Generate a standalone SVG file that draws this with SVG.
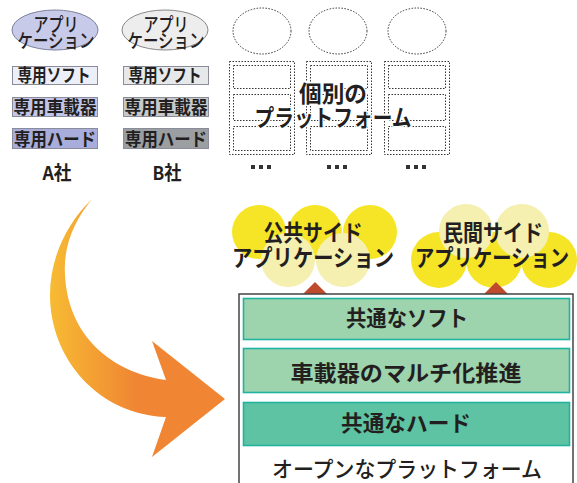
<svg xmlns="http://www.w3.org/2000/svg" width="577" height="483" viewBox="0 0 577 483">
<style>
text{font-family:"Noto Sans CJK JP","Noto Sans",sans-serif;fill:#231f20;text-anchor:middle;}
.b{font-weight:bold;}
.m{font-weight:500;}
.s18{font-size:18px;}
.s19{font-size:19px;}
.s22{font-size:22px;}
.s23{font-size:23px;}
.halo{stroke:#fff;stroke-width:3px;paint-order:stroke;stroke-linejoin:round;}
.dot{fill:none;stroke:#333;stroke-width:1;stroke-dasharray:1.5 1.5;}
.box{stroke:#8a8c99;stroke-width:1;}
.grn{stroke:#1fb3a0;stroke-width:1.6;}
.yel{fill:#f6e526;}
.pal{fill:#f5efb0;}
.tri{fill:#c04a2c;}
</style>
<defs>
<linearGradient id="ag" x1="50" y1="0" x2="135" y2="0" gradientUnits="userSpaceOnUse">
<stop offset="0" stop-color="#f7bb33"/>
<stop offset="1" stop-color="#f08633"/>
</linearGradient>
</defs>

<g id="companyA">
<ellipse cx="55" cy="30" rx="43" ry="20" fill="#c7cae8" stroke="#7d819c" stroke-width="1"/>
<text class="s19 m" x="56" y="32" textLength="45" lengthAdjust="spacingAndGlyphs">アプリ</text>
<text class="s19 m" x="56" y="48" textLength="77" lengthAdjust="spacingAndGlyphs">ケーション</text>
<rect class="box" x="12.5" y="66.5" width="85" height="18" fill="#eceef8"/>
<text class="s18 b" x="54" y="82" textLength="73" lengthAdjust="spacingAndGlyphs">専用ソフト</text>
<rect class="box" x="12.5" y="97.5" width="85" height="19" fill="#c3c6e6"/>
<text class="s18 b" x="55" y="114" textLength="83" lengthAdjust="spacingAndGlyphs">専用車載器</text>
<rect class="box" x="12.5" y="128.5" width="85" height="20" fill="#a8addb"/>
<text class="s18 b" x="55" y="146" textLength="82" lengthAdjust="spacingAndGlyphs">専用ハード</text>
<text class="s19 b" x="57" y="180" textLength="29" lengthAdjust="spacingAndGlyphs">A社</text>
</g>

<g id="companyB">
<ellipse cx="165" cy="30" rx="43" ry="20" fill="#ededee" stroke="#888" stroke-width="1"/>
<text class="s19 m" x="166" y="32" textLength="45" lengthAdjust="spacingAndGlyphs">アプリ</text>
<text class="s19 m" x="166" y="48" textLength="77" lengthAdjust="spacingAndGlyphs">ケーション</text>
<rect class="box" x="123.5" y="66.5" width="85" height="18" fill="#e7e8ea"/>
<text class="s18 b" x="165" y="82" textLength="73" lengthAdjust="spacingAndGlyphs">専用ソフト</text>
<rect class="box" x="123.5" y="97.5" width="85" height="19" fill="#c8c9cb"/>
<text class="s18 b" x="166" y="114" textLength="83" lengthAdjust="spacingAndGlyphs">専用車載器</text>
<rect class="box" x="123.5" y="128.5" width="85" height="20" fill="#9b9fa2"/>
<text class="s18 b" x="166" y="146" textLength="82" lengthAdjust="spacingAndGlyphs">専用ハード</text>
<text class="s19 b" x="167" y="180" textLength="29" lengthAdjust="spacingAndGlyphs">B社</text>
</g>

<g id="individual">
<ellipse class="dot" cx="262" cy="31" rx="29" ry="23"/>
<ellipse class="dot" cx="338" cy="31" rx="29" ry="23"/>
<ellipse class="dot" cx="417" cy="31" rx="29" ry="23"/>
<rect class="dot" x="229.5" y="61.5" width="65" height="93"/>
<rect class="dot" x="233.5" y="65.5" width="57" height="23"/>
<rect class="dot" x="233.5" y="94.5" width="57" height="26"/>
<rect class="dot" x="233.5" y="126.5" width="57" height="24"/>
<rect class="dot" x="306.5" y="61.5" width="65" height="93"/>
<rect class="dot" x="310.5" y="65.5" width="57" height="23"/>
<rect class="dot" x="310.5" y="94.5" width="57" height="26"/>
<rect class="dot" x="310.5" y="126.5" width="57" height="24"/>
<rect class="dot" x="384.5" y="61.5" width="65" height="93"/>
<rect class="dot" x="388.5" y="65.5" width="57" height="23"/>
<rect class="dot" x="388.5" y="94.5" width="57" height="26"/>
<rect class="dot" x="388.5" y="126.5" width="57" height="24"/>
<g fill="#333">
<rect x="251" y="165" width="4" height="4"/><rect x="259" y="165" width="4" height="4"/><rect x="267" y="165" width="4" height="4"/>
<rect x="327" y="165" width="4" height="4"/><rect x="335" y="165" width="4" height="4"/><rect x="343" y="165" width="4" height="4"/>
<rect x="406" y="165" width="4" height="4"/><rect x="414" y="165" width="4" height="4"/><rect x="422" y="165" width="4" height="4"/>
</g>
<text class="s23 b halo" x="333" y="102" textLength="68" lengthAdjust="spacingAndGlyphs">個別の</text>
<text class="s23 b halo" x="333" y="126" textLength="157" lengthAdjust="spacingAndGlyphs">プラットフォーム</text>
</g>

<g id="arrow">
<path d="M92,199 C65,225 50,260 50,295 C50,360 100,415 166,417 L152,457 L225,399 L152,341 L166,380 C110,372 68,335 65,275 C63,245 75,220 92,199 Z" fill="url(#ag)"/>
</g>

<g id="publicApp">
<circle class="yel" cx="259" cy="232" r="27"/>
<circle class="yel" cx="315" cy="232" r="27"/>
<circle class="yel" cx="370" cy="232" r="27"/>
<circle class="pal" cx="288" cy="260" r="27"/>
<circle class="pal" cx="343" cy="260" r="27"/>
<text class="s23 b" x="313" y="241" textLength="99" lengthAdjust="spacingAndGlyphs">公共サイド</text>
<text class="s23 b" x="313" y="266" textLength="162" lengthAdjust="spacingAndGlyphs">アプリケーション</text>
</g>

<g id="privateApp">
<circle class="yel" cx="439" cy="260" r="28"/>
<circle class="yel" cx="494" cy="260" r="28"/>
<circle class="yel" cx="549" cy="260" r="28"/>
<circle class="pal" cx="466" cy="231" r="27"/>
<circle class="pal" cx="522" cy="231" r="27"/>
<text class="s23 b" x="493" y="241" textLength="100" lengthAdjust="spacingAndGlyphs">民間サイド</text>
<text class="s23 b" x="492" y="266" textLength="154" lengthAdjust="spacingAndGlyphs">アプリケーション</text>
</g>

<g id="connectors">
<polygon class="tri" points="315,282 303,294 327,294"/>
<polygon class="tri" points="496,282 484,294 508,294"/>
</g>

<g id="openPlatform">
<rect x="239" y="294" width="334" height="200" fill="#fff" stroke="#444" stroke-width="1.5"/>
<rect class="grn" x="243.5" y="298.5" width="326" height="41" fill="#9dd3ad"/>
<text class="s22 b" x="407" y="326" textLength="122" lengthAdjust="spacingAndGlyphs">共通なソフト</text>
<rect class="grn" x="243.5" y="348.5" width="326" height="44" fill="#9dd3ad"/>
<text class="s22 b" x="406" y="381" textLength="231" lengthAdjust="spacingAndGlyphs">車載器のマルチ化推進</text>
<rect class="grn" x="243.5" y="402.5" width="326" height="43" fill="#5ec3a2"/>
<text class="s22 b" x="406" y="431" textLength="130" lengthAdjust="spacingAndGlyphs">共通なハード</text>
<text class="s22 m" x="407" y="477" textLength="270" lengthAdjust="spacingAndGlyphs">オープンなプラットフォーム</text>
</g>
</svg>
